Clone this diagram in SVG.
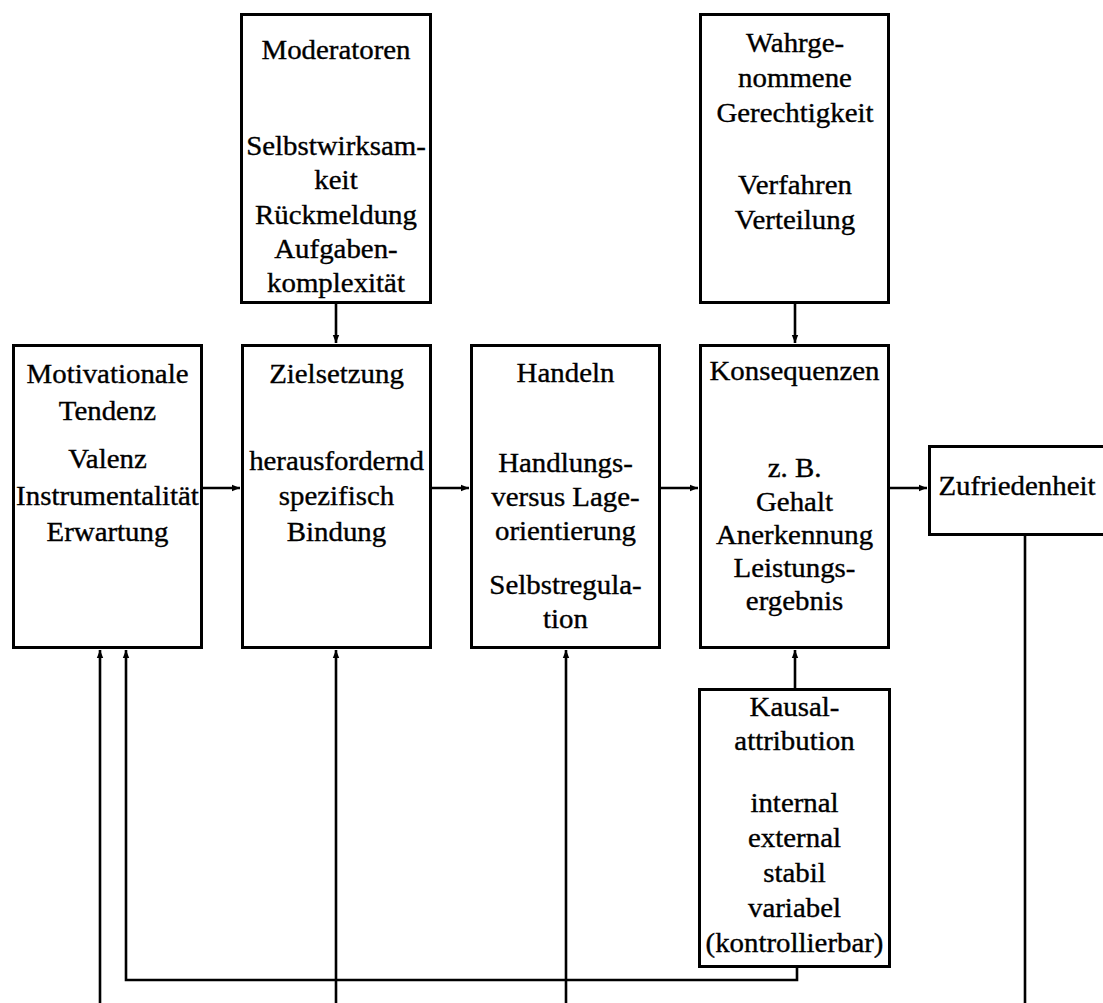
<svg xmlns="http://www.w3.org/2000/svg" width="1103" height="1003" viewBox="0 0 1103 1003">
  <style>
    .box { fill: #fff; stroke: #000; stroke-width: 3; }
    .lbl { font-family: "Liberation Serif", "Times New Roman", serif; font-size: 26.5px; fill: #000; stroke: #000; stroke-width: 0.35; text-anchor: middle; }
    .conn { fill: none; stroke: #000; stroke-width: 2.6; }
  </style>
  <defs>
    <marker id="arrow" markerUnits="userSpaceOnUse" markerWidth="9" markerHeight="8" refX="8" refY="4" orient="auto">
      <path d="M0,0.8 L8,4 L0,7.2 z" fill="#000"/>
    </marker>
  </defs>

  <rect x="0" y="0" width="1103" height="1003" fill="#fff"/>

  <!-- connectors -->
  <g id="connectors">
    <line class="conn" x1="336" y1="304" x2="336" y2="343" marker-end="url(#arrow)"/>
    <line class="conn" x1="795" y1="304" x2="795" y2="343" marker-end="url(#arrow)"/>
    <line class="conn" x1="203" y1="488" x2="240" y2="488" marker-end="url(#arrow)"/>
    <line class="conn" x1="432" y1="488" x2="469" y2="488" marker-end="url(#arrow)"/>
    <line class="conn" x1="661" y1="488" x2="698" y2="488" marker-end="url(#arrow)"/>
    <line class="conn" x1="890" y1="488" x2="927" y2="488" marker-end="url(#arrow)"/>
    <line class="conn" x1="795" y1="688" x2="795" y2="650" marker-end="url(#arrow)"/>
    <line class="conn" x1="100" y1="1003" x2="100" y2="650" marker-end="url(#arrow)"/>
    <polyline class="conn" points="797,968 797,980 126,980 126,650" marker-end="url(#arrow)"/>
    <line class="conn" x1="336" y1="1003" x2="336" y2="650" marker-end="url(#arrow)"/>
    <line class="conn" x1="566" y1="1003" x2="566" y2="650" marker-end="url(#arrow)"/>
    <line class="conn" x1="1025" y1="536" x2="1025" y2="1003"/>
  </g>

  <!-- Moderatoren -->
  <g id="moderatoren">
    <rect class="box" x="241.5" y="14.5" width="189" height="288"/>
    <g transform="translate(336 0) scale(1.09 1)">
      <text class="lbl" x="0" y="59">Moderatoren</text>
      <text class="lbl" x="0" y="155">Selbstwirksam-</text>
      <text class="lbl" x="0" y="189">keit</text>
      <text class="lbl" x="0" y="224">Rückmeldung</text>
      <text class="lbl" x="0" y="258">Aufgaben-</text>
      <text class="lbl" x="0" y="292">komplexität</text>
    </g>
  </g>

  <!-- Wahrgenommene Gerechtigkeit -->
  <g id="gerechtigkeit">
    <rect class="box" x="700.5" y="14.5" width="188" height="288"/>
    <g transform="translate(795 0) scale(1.09 1)">
      <text class="lbl" x="0" y="52">Wahrge-</text>
      <text class="lbl" x="0" y="87">nommene</text>
      <text class="lbl" x="0" y="122">Gerechtigkeit</text>
      <text class="lbl" x="0" y="194">Verfahren</text>
      <text class="lbl" x="0" y="229">Verteilung</text>
    </g>
  </g>

  <!-- Motivationale Tendenz -->
  <g id="motivation">
    <rect class="box" x="13.5" y="345.5" width="188" height="302"/>
    <g transform="translate(107.5 0) scale(1.09 1)">
      <text class="lbl" x="0" y="383">Motivationale</text>
      <text class="lbl" x="0" y="420">Tendenz</text>
      <text class="lbl" x="0" y="468">Valenz</text>
      <text class="lbl" x="0" y="505">Instrumentalität</text>
      <text class="lbl" x="0" y="541">Erwartung</text>
    </g>
  </g>

  <!-- Zielsetzung -->
  <g id="zielsetzung">
    <rect class="box" x="242.5" y="345.5" width="188" height="302"/>
    <g transform="translate(336.5 0) scale(1.09 1)">
      <text class="lbl" x="0" y="383">Zielsetzung</text>
      <text class="lbl" x="0" y="470">herausfordernd</text>
      <text class="lbl" x="0" y="505">spezifisch</text>
      <text class="lbl" x="0" y="541">Bindung</text>
    </g>
  </g>

  <!-- Handeln -->
  <g id="handeln">
    <rect class="box" x="471.5" y="345.5" width="188" height="302"/>
    <g transform="translate(565.5 0) scale(1.09 1)">
      <text class="lbl" x="0" y="382">Handeln</text>
      <text class="lbl" x="0" y="472">Handlungs-</text>
      <text class="lbl" x="0" y="506">versus Lage-</text>
      <text class="lbl" x="0" y="540">orientierung</text>
      <text class="lbl" x="0" y="594">Selbstregula-</text>
      <text class="lbl" x="0" y="628">tion</text>
    </g>
  </g>

  <!-- Konsequenzen -->
  <g id="konsequenzen">
    <rect class="box" x="700.5" y="345.5" width="188" height="302"/>
    <g transform="translate(794.5 0) scale(1.09 1)">
      <text class="lbl" x="0" y="380">Konsequenzen</text>
      <text class="lbl" x="0" y="477">z. B.</text>
      <text class="lbl" x="0" y="511">Gehalt</text>
      <text class="lbl" x="0" y="544">Anerkennung</text>
      <text class="lbl" x="0" y="577">Leistungs-</text>
      <text class="lbl" x="0" y="610">ergebnis</text>
    </g>
  </g>

  <!-- Zufriedenheit -->
  <g id="zufriedenheit">
    <rect class="box" x="929.5" y="446.5" width="200" height="88"/>
    <g transform="translate(1017 0) scale(1.09 1)">
      <text class="lbl" x="0" y="495">Zufriedenheit</text>
    </g>
  </g>

  <!-- Kausalattribution -->
  <g id="kausalattribution">
    <rect class="box" x="699.5" y="689.5" width="190" height="277"/>
    <g transform="translate(794.5 0) scale(1.09 1)">
      <text class="lbl" x="0" y="716">Kausal-</text>
      <text class="lbl" x="0" y="750">attribution</text>
      <text class="lbl" x="0" y="812">internal</text>
      <text class="lbl" x="0" y="847">external</text>
      <text class="lbl" x="0" y="882">stabil</text>
      <text class="lbl" x="0" y="917">variabel</text>
      <text class="lbl" x="0" y="952">(kontrollierbar)</text>
    </g>
  </g>
</svg>
